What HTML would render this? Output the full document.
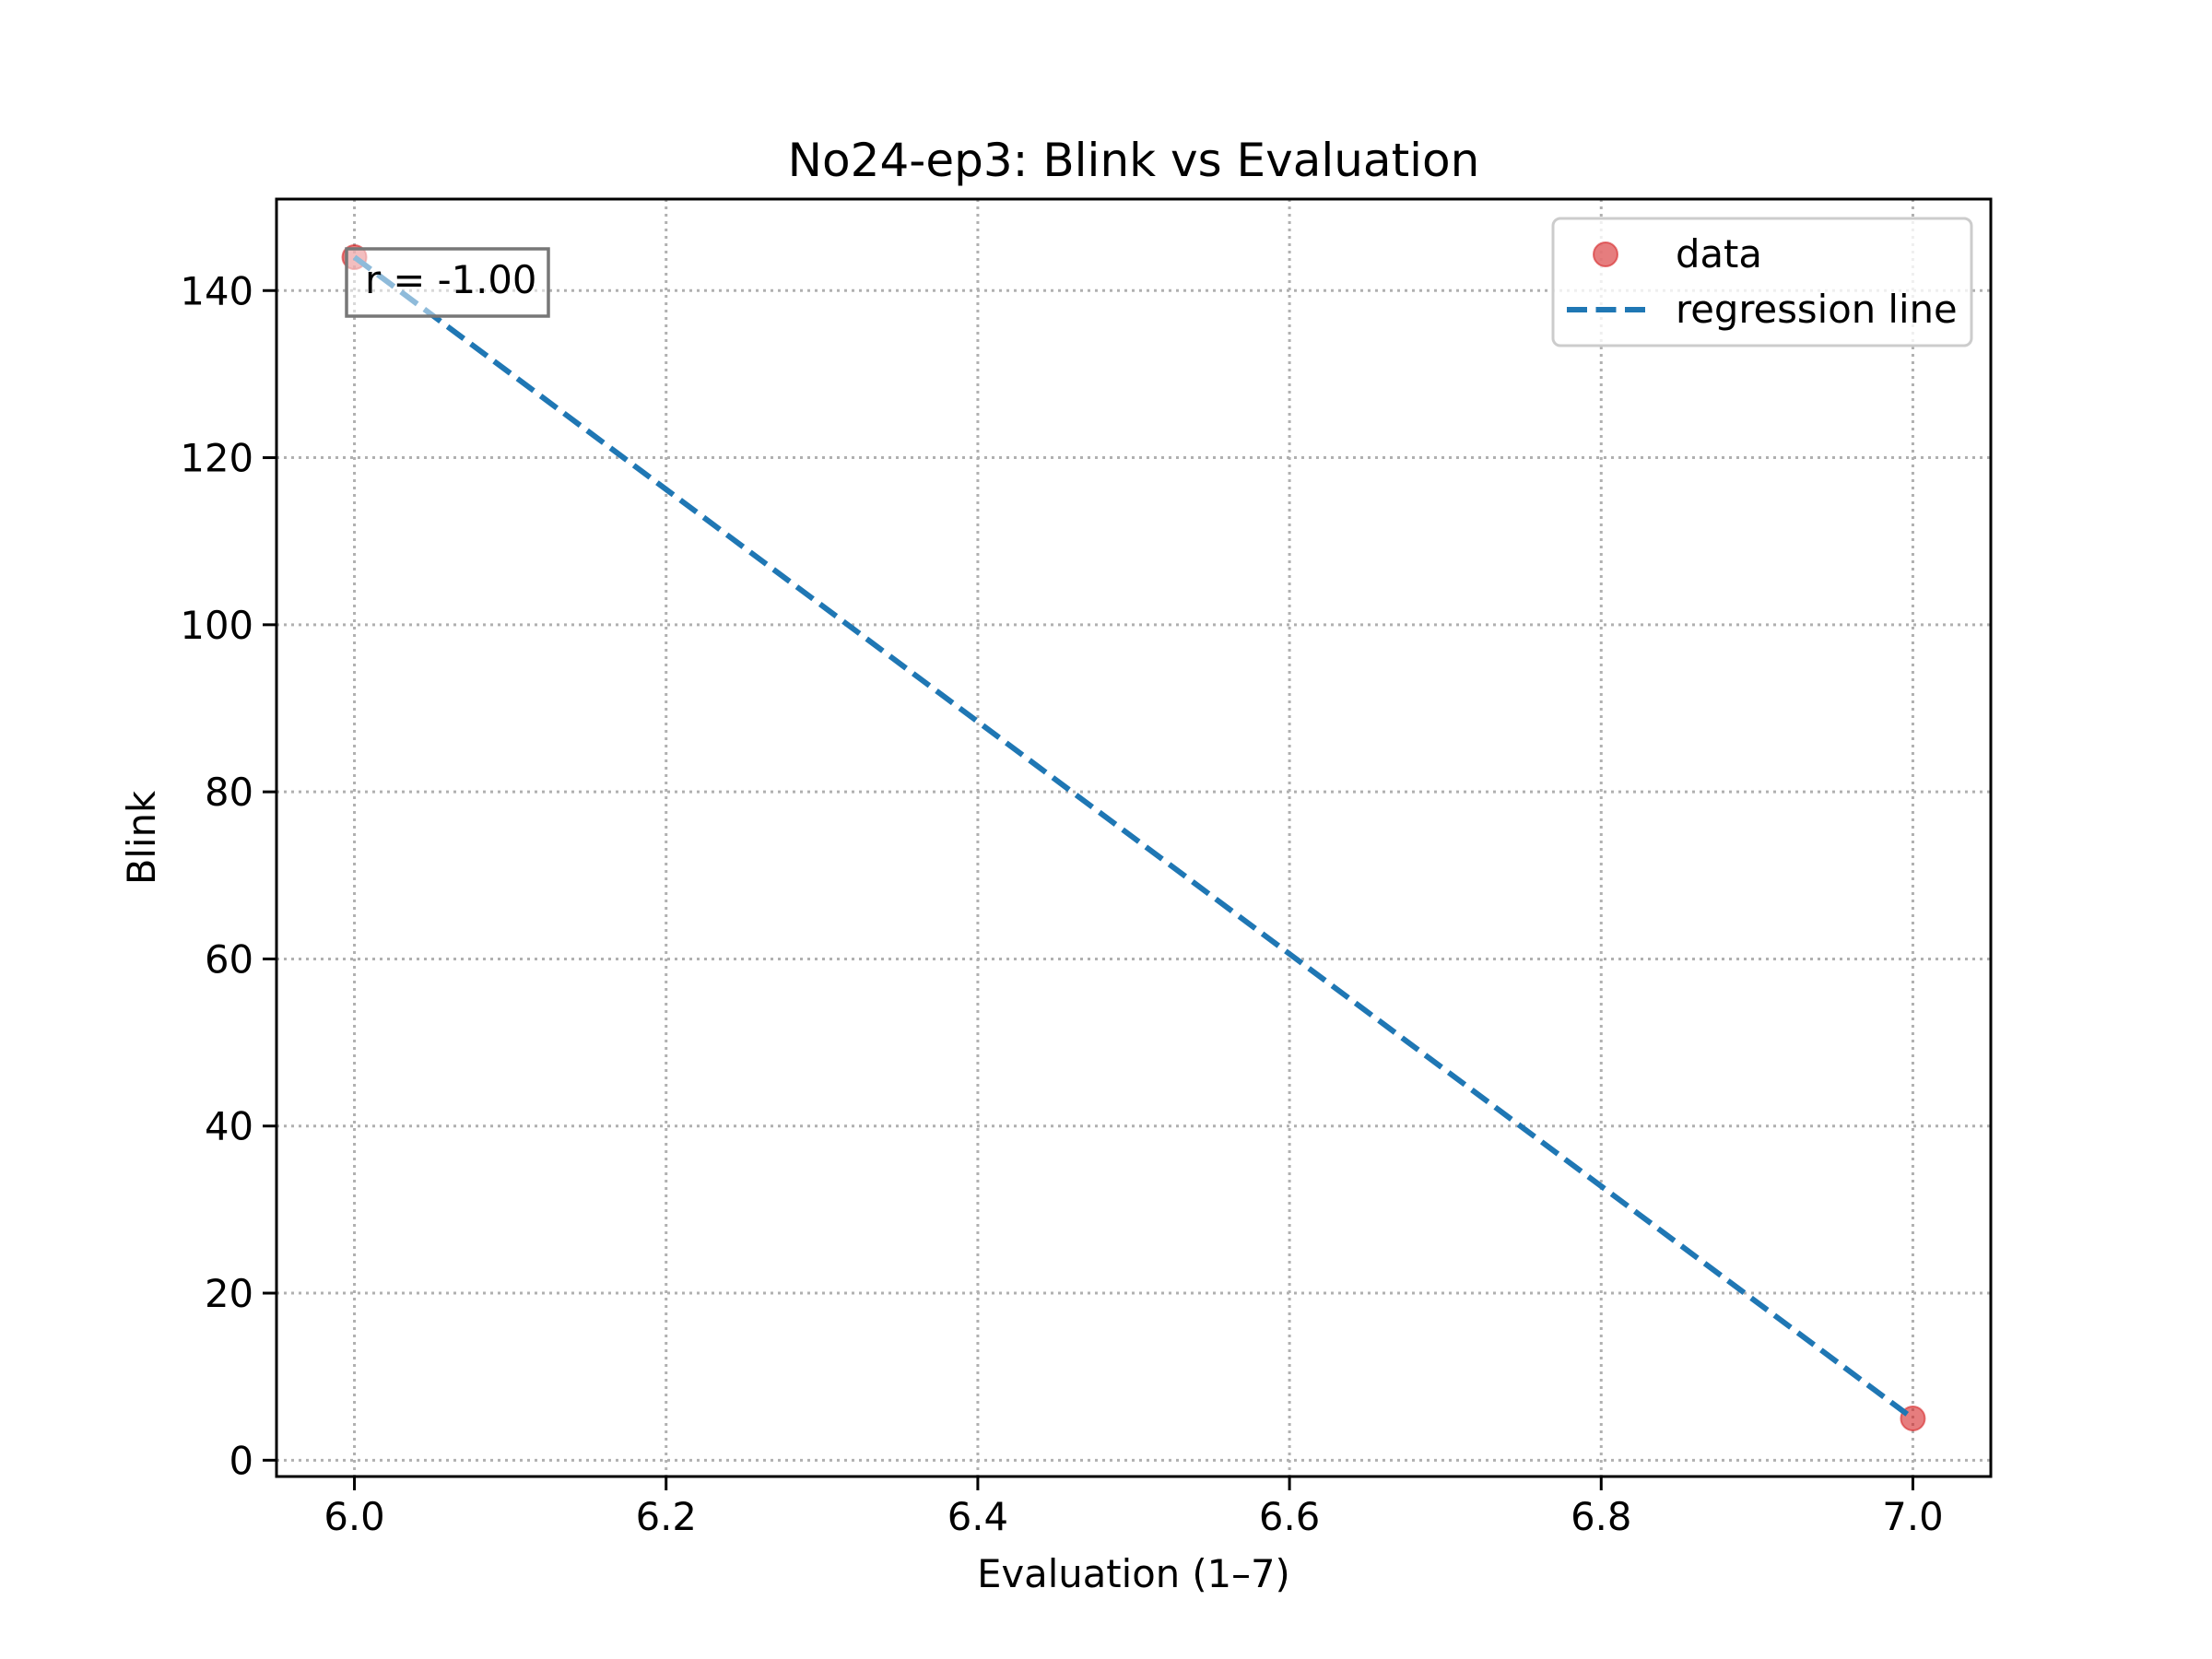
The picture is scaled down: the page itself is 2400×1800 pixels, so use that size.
<!DOCTYPE html>
<html><head><meta charset="utf-8"><style>
html,body{margin:0;padding:0;background:#fff;}
svg{display:block;font-family:"DejaVu Sans","Liberation Sans",sans-serif;}
</style></head><body>
<svg id="chart" width="2400" height="1800" viewBox="0 0 2400 1800" xmlns="http://www.w3.org/2000/svg">
<rect x="0" y="0" width="2400" height="1800" fill="#fff"/>
<text x="1230" y="191" font-size="50" text-anchor="middle">No24-ep3: Blink vs Evaluation</text>
<g id="grid"></g>
<g id="ticks"></g>
<g id="marks"></g>
<rect x="300" y="216" width="1860" height="1386" fill="none" stroke="#000" stroke-width="3"/>
<g>
<rect x="376" y="270" width="219" height="73" fill="#fff" fill-opacity="0.5" stroke="#777" stroke-width="3.5"/>
<text x="396" y="318" font-size="41.7">r = -1.00</text>
</g>
<g>
<rect x="1685" y="237" width="454" height="138" rx="8" fill="#fff" fill-opacity="0.8" stroke="#ccc" stroke-width="3"/>
<circle cx="1742" cy="276" r="13" fill="#d62728" fill-opacity="0.6" stroke="#d62728" stroke-opacity="0.6" stroke-width="2"/>
<text x="1818" y="290" font-size="41.7">data</text>
<line x1="1700" y1="336" x2="1785" y2="336" stroke="#1f77b4" stroke-width="6" stroke-dasharray="22,9.5"/>
<text x="1818" y="350" font-size="41.7">regression line</text>
</g>
<text x="1230" y="1722" font-size="41.7" text-anchor="middle">Evaluation (1–7)</text>
<text x="168" y="909" font-size="41.7" text-anchor="middle" transform="rotate(-90 168 909)">Blink</text>
</svg>
<script>
const xTicks = [6.0, 6.2, 6.4, 6.6, 6.8, 7.0];
const yTicks = [0, 20, 40, 60, 80, 100, 120, 140];
const xValues = [6.0, 7.0];
const yValues = [144, 5];
const regX = [6.0, 7.0];
const regY = [144, 5];

const NS = "http://www.w3.org/2000/svg";
const L = 300, R = 2160, T = 216, B = 1602;
const xmin = Math.min(...xValues), xmax = Math.max(...xValues);
const ymin = Math.min(...yValues), ymax = Math.max(...yValues);
const xpad = (xmax - xmin) * 0.05 || 0.05, ypad = (ymax - ymin) * 0.05 || 1;
const x0 = xmin - xpad, x1 = xmax + xpad, y0 = ymin - ypad, y1 = ymax + ypad;
function sx(v){ return L + (v - x0) / (x1 - x0) * (R - L); }
function sy(v){ return B - (v - y0) / (y1 - y0) * (B - T); }
function mk(tag, attrs, parent){ const e = document.createElementNS(NS, tag); for (const k in attrs) e.setAttribute(k, attrs[k]); parent.appendChild(e); return e; }
const grid = document.getElementById('grid'), ticks = document.getElementById('ticks'), marks = document.getElementById('marks');
xTicks.forEach(v => {
  const x = sx(v);
  const g = mk('line', {x1:x, y1:T, x2:x, y2:B, stroke:'#b0b0b0', 'stroke-width':3, 'stroke-dasharray':'3,5'}, grid);
  
  
  const t = mk('line', {x1:x, y1:B, x2:x, y2:B+15, stroke:'#000', 'stroke-width':3}, ticks);
  
  
  const l = mk('text', {x:x, y:B+58, 'font-size':41.7, 'text-anchor':'middle'}, ticks);
  l.textContent = v.toFixed(1);
  
  
});
yTicks.forEach(v => {
  const y = sy(v);
  const g = mk('line', {x1:L, y1:y, x2:R, y2:y, stroke:'#b0b0b0', 'stroke-width':3, 'stroke-dasharray':'3,5'}, grid);
  
  
  const t = mk('line', {x1:L-15, y1:y, x2:L, y2:y, stroke:'#000', 'stroke-width':3}, ticks);
  
  
  const l = mk('text', {x:L-25, y:y+15, 'font-size':41.7, 'text-anchor':'end'}, ticks);
  l.textContent = String(v);
  
  
});
xValues.forEach((v, i) => {
  const c = mk('circle', {cx:sx(v), cy:sy(yValues[i]), r:13, fill:'#d62728', 'fill-opacity':0.6, stroke:'#d62728', 'stroke-opacity':0.6, 'stroke-width':2}, marks);
  
  
});
const rl = mk('line', {x1:sx(regX[0]), y1:sy(regY[0]), x2:sx(regX[1]), y2:sy(regY[1]), stroke:'#1f77b4', 'stroke-width':6, 'stroke-dasharray':'22,9.5'}, marks);


</script>
</body></html>
